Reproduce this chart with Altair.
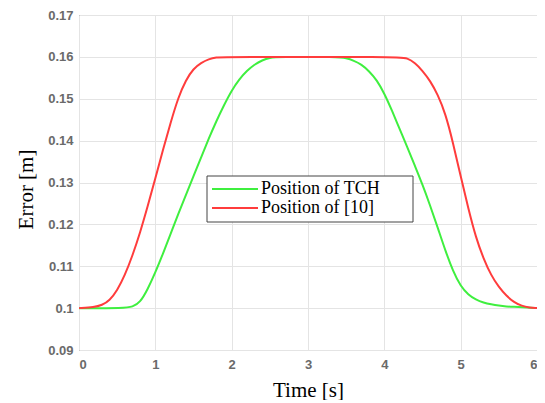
import altair as alt
import pandas as pd

# Series
red_t = [0.0, 0.2, 0.3, 0.4, 0.5, 0.6, 0.7, 0.8, 0.9, 1.0, 1.1, 1.2, 1.3, 1.4, 1.5, 1.6, 1.7, 1.8, 1.9,
         4.2, 4.3, 4.4, 4.5, 4.6, 4.7, 4.8, 4.9, 5.0, 5.1, 5.2, 5.3, 5.4, 5.5, 5.6, 5.7, 5.8, 5.9, 6.0]
red_v = [0.1, 0.1002, 0.1007, 0.1018, 0.1042, 0.1078, 0.1125, 0.118, 0.1243, 0.131, 0.1378, 0.1443,
         0.1503, 0.1545, 0.1572, 0.1586, 0.1595, 0.1599, 0.16,
         0.16, 0.1597, 0.1586, 0.1567, 0.1543, 0.151, 0.1465, 0.1395, 0.1315, 0.1238, 0.1168, 0.1118,
         0.1078, 0.105, 0.1029, 0.1014, 0.1005, 0.1001, 0.1]

green_t = [0.0, 0.6, 0.7, 0.8, 0.9, 1.0, 1.1, 1.2, 1.3, 1.4, 1.5, 1.6, 1.7, 1.8, 1.9, 2.0, 2.1, 2.2, 2.3,
           2.4, 2.5, 2.6, 3.4, 3.5, 3.6, 3.7, 3.8, 3.9, 4.0, 4.1, 4.2, 4.3, 4.4, 4.5, 4.6, 4.7, 4.8,
           4.9, 5.0, 5.1, 5.2, 5.3, 5.4, 5.5, 5.6, 5.7, 5.8, 6.0]
green_v = [0.1, 0.1, 0.1003, 0.1013, 0.1045, 0.1085, 0.113, 0.1177, 0.1225, 0.127, 0.1315, 0.136,
           0.1405, 0.1447, 0.1485, 0.152, 0.1547, 0.1567, 0.1582, 0.1592, 0.1598, 0.16,
           0.16, 0.1597, 0.1591, 0.1582, 0.1566, 0.1545, 0.1513, 0.1472, 0.1428, 0.1385, 0.134,
           0.1295, 0.1245, 0.1192, 0.1137, 0.1088, 0.1052, 0.1032, 0.102, 0.1013, 0.1009, 0.1006,
           0.1004, 0.1003, 0.1002, 0.1]

series_names = ["Position of TCH", "Position of  [10]"]
series_colors = ["#3fef3f", "#ff3c3c"]
x_ticks = [0, 1, 2, 3, 4, 5, 6]
y_ticks = [0.09, 0.1, 0.11, 0.12, 0.13, 0.14, 0.15, 0.16, 0.17]

df = pd.concat([
    pd.DataFrame({"t": green_t, "v": green_v, "s": series_names[0]}),
    pd.DataFrame({"t": red_t, "v": red_v, "s": series_names[1]}),
], ignore_index=True)

color_scale = alt.Scale(domain=series_names, range=series_colors)

lines = alt.Chart(df).mark_line(strokeWidth=2, interpolate="basis").encode(
    x=alt.X("t:Q", scale=alt.Scale(domain=[0, 6], nice=False),
            axis=alt.Axis(title="Time [s]", values=x_ticks, format="d", labelPadding=8,
                          titlePadding=8)),
    y=alt.Y("v:Q", scale=alt.Scale(domain=[0.09, 0.17], nice=False, zero=False),
            axis=alt.Axis(title="Error [m]", values=y_ticks, format="~g", labelPadding=6,
                          titlePadding=11, titleY=174)),
    color=alt.Color("s:N", scale=color_scale, legend=None),
)

# Legend box (MATLAB style, placed inside the plot), pixel layout
leg_left, leg_top, leg_w, leg_h = 128, 161, 206, 46
row_line_y = [174, 193]
row_text_y = [178.5, 198]

box = alt.Chart(pd.DataFrame({"k": [0]})).mark_rect(
    fill="white", stroke="#444", strokeWidth=1,
    x=leg_left, x2=leg_left + leg_w, y=leg_top, y2=leg_top + leg_h,
).encode(opacity=alt.value(1))

layers = [lines, box]
for i, name in enumerate(series_names):
    entry = pd.DataFrame({"s": [name]})
    layers.append(
        alt.Chart(entry).mark_rule(strokeWidth=2).encode(
            x=alt.value(leg_left + 5), x2=alt.value(leg_left + 51),
            y=alt.value(row_line_y[i]),
            color=alt.Color("s:N", scale=color_scale, legend=None),
        )
    )
    layers.append(
        alt.Chart(entry).mark_text(
            align="left", baseline="alphabetic", font="Liberation Serif",
            fontSize=18, color="black"
        ).encode(
            x=alt.value(leg_left + 54), y=alt.value(row_text_y[i]),
            text=alt.Text("s:N"),
        )
    )

chart = alt.layer(*layers).properties(
    width=458, height=335,
    autosize=alt.AutoSizeParams(type="none"),
    padding={"left": 71, "top": 7, "right": 0, "bottom": 50},
).configure_view(
    stroke="#4a4a4a", strokeWidth=1
).configure_axis(
    labelFont="Liberation Sans", labelFontSize=13, labelColor="#6a6a6a", labelFontWeight="bold",
    titleFont="Liberation Serif", titleFontSize=21, titleColor="black", titleFontWeight="normal",
    gridColor="#e4e4e4", gridWidth=1, domain=False, ticks=False,
)

chart.save("out.html", embed_options={"renderer": "svg", "actions": False})
